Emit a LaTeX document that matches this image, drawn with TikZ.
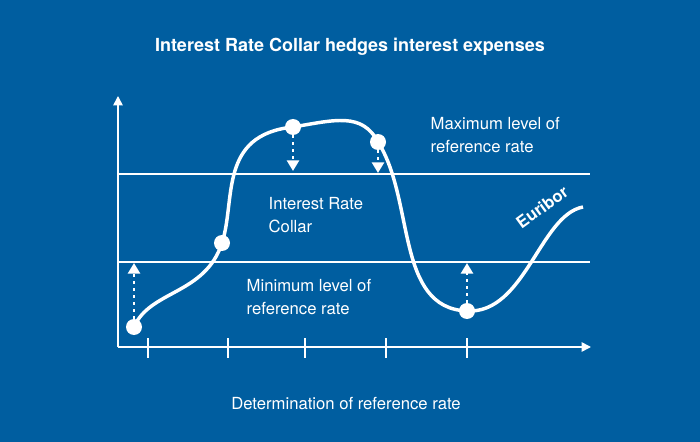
\documentclass[tikz,border=0pt]{standalone}
\usepackage{fontspec}
\setmainfont{TeX Gyre Heros}
\usetikzlibrary{arrows.meta}
\definecolor{bg}{RGB}{0,94,160}
\begin{document}
\begin{tikzpicture}[x=0.75pt,y=-0.75pt,
  ln/.style={white,line width=1.2pt},
  dotarr/.style={white,line width=2.2pt,dash pattern=on 2.2pt off 3pt,-{Triangle[width=9pt,length=8pt,fill=white]}},
  lbl/.style={white,font=\fontsize{12.5}{17}\selectfont,align=left,anchor=west},
  pt/.style={circle,fill=white,inner sep=0pt,minimum size=12pt}]
\fill[bg] (0,0) rectangle (700,442);
\useasboundingbox (0,0) rectangle (700,442);
\node[white,font=\bfseries\fontsize{13.5}{16}\selectfont] (title) at (350,47) {Interest Rate Collar hedges interest expenses};
\coordinate (o) at (118,347);
\coordinate (ytop) at (118,96);
\coordinate (xend) at (591,347);
\draw[ln,-{Triangle[width=7pt,length=7pt]}] (o) -- (ytop);
\draw[ln,-{Triangle[width=7pt,length=7pt]}] (o) -- (xend);
\foreach \x in {148,228,305,386,467} \draw[ln] (\x,338) -- (\x,358);
\draw[ln] (118,174) -- (590,174);
\draw[ln] (118,262) -- (590,262);
\draw[white,line width=2.6pt] (134,327) .. controls (150,290) and (205,295) .. (222,243)
 .. controls (236,200) and (218,135) .. (293,127)
 .. controls (335,120) and (362,112) .. (378,142)
 .. controls (415,200) and (395,308) .. (467,311)
 .. controls (525,314) and (540,215) .. (583,207);
\node[pt] (p1) at (134,327) {};
\node[pt] (p2) at (222,243) {};
\node[pt] (p3) at (293,127) {};
\node[pt] (p4) at (378,142) {};
\node[pt] (p5) at (467,311) {};
\coordinate (a1) at (134,263);
\coordinate (a3) at (293,171);
\coordinate (a4) at (378,173);
\coordinate (a5) at (467,263);
\draw[dotarr] (p1.north) -- (a1);
\draw[dotarr] (p3.south) -- (a3);
\draw[dotarr] (p4.south) -- (a4);
\draw[dotarr] (p5.north) -- (a5);
\node[lbl] (max) at (426,135) {Maximum level of\\reference rate};
\node[lbl] (col) at (264,215) {Interest Rate\\Collar};
\node[lbl] (min) at (242,297) {Minimum level of\\reference rate};
\node[white,font=\bfseries\fontsize{12.5}{14}\selectfont,rotate=36,inner sep=0pt] (eur) at (542,207) {Euribor};
\node[white,font=\fontsize{12.5}{14}\selectfont] (det) at (346,404) {Determination of reference rate};
\end{tikzpicture}
\end{document}
